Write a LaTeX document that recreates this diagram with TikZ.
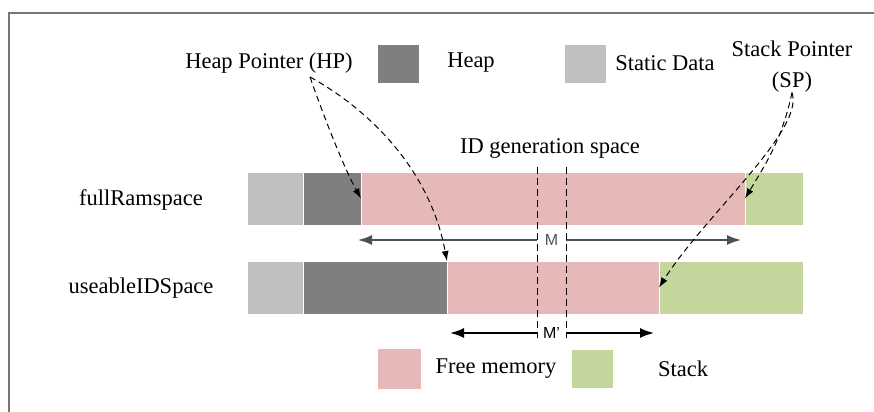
\documentclass[tikz,border=0pt]{standalone}
\usepackage{fontspec}
\setmainfont{Liberation Serif}
\newfontfamily\dimfont{Liberation Sans}
\usetikzlibrary{positioning, arrows.meta}
\definecolor{staticgray}{RGB}{191,191,191}
\definecolor{heapgray}{RGB}{127,127,127}
\definecolor{freepink}{RGB}{230,185,184}
\definecolor{stackgreen}{RGB}{195,214,155}
\definecolor{framegray}{RGB}{118,118,118}
\definecolor{dimgray}{RGB}{80,80,80}
\tikzset{
  seg/.style={
    rectangle,
    draw=white,
    line width=0.5pt,
    inner sep=0pt,
    outer sep=0pt,
    minimum height=26.5pt
  },
  swatch/.style={
    rectangle,
    inner sep=0pt,
    minimum width=20.5pt,
    minimum height=19pt
  },
  lbl/.style={
    inner sep=0pt,
    font=\fontsize{11.25}{13.5}\selectfont
  },
  pointer/.style={
    dash pattern=on 3pt off 2pt,
    line width=0.5pt,
    -{Latex[length=5pt,width=3.5pt]}
  },
  dimarrow/.style={
    line width=0.9pt,
    -{Latex[length=7pt,width=5pt]}
  },
  dimlabel/.style={
    inner sep=0pt,
    minimum width=14.5pt,
    font=\dimfont\fontsize{8}{9.5}\selectfont
  },
  idline/.style={
    dash pattern=on 3.5pt off 2pt,
    line width=0.5pt
  }
}
\begin{document}
\begin{tikzpicture}[x=0.5pt, y=-0.5pt]
    \useasboundingbox (0,0) rectangle (874,412);
    \draw[framegray, line width=1pt] (9,412) -- (9,13) -- (874,13);

    % full RAM bar
    \node[seg, fill=staticgray, minimum width=28pt, anchor=west] (ts) at (247,198.5) {};
    \node[seg, fill=heapgray, minimum width=29pt, right=0pt of ts] (th) {};
    \node[seg, fill=freepink, minimum width=192pt, right=0pt of th] (tf) {};
    \node[seg, fill=stackgreen, minimum width=29pt, right=0pt of tf] (tk) {};

    % usable ID bar
    \node[seg, fill=staticgray, minimum width=28pt, anchor=west] (bs) at (247,287.5) {};
    \node[seg, fill=heapgray, minimum width=72pt, right=0pt of bs] (bh) {};
    \node[seg, fill=freepink, minimum width=106pt, right=0pt of bh] (bf) {};
    \node[seg, fill=stackgreen, minimum width=72pt, right=0pt of bf] (bk) {};

    \node[lbl] (full) at (141,200) {fullRamspace};
    \node[lbl] (useable) at (141,288) {useableIDSpace};

    % legend
    \node[lbl] (hp) at (269,63) {Heap Pointer (HP)};
    \node[swatch, fill=heapgray] (keyheap) at (398.5,64) {};
    \node[lbl] (heaptxt) at (471,63) {Heap};
    \node[swatch, fill=staticgray] (keystatic) at (585,63.5) {};
    \node[lbl] (statictxt) at (665,63) {Static Data};
    \node[lbl, align=center, font=\fontsize{11.25}{15.5}\selectfont] (sp) at (792,66.5) {Stack Pointer\\(SP)};
    \node[swatch, fill=freepink, minimum width=21.5pt, minimum height=20pt] (keyfree) at (399.5,369) {};
    \node[lbl] (freetxt) at (496,369) {Free memory};
    \node[swatch, fill=stackgreen] (keystack) at (592.5,369) {};
    \node[lbl] (stacktxt) at (683,369) {Stack};

    % sizes
    \node[dimlabel, text=dimgray] (mlab) at (551.5,240) {M};
    \coordinate (mL) at (358,240);
    \coordinate (mR) at (741,240);
    \draw[dimarrow, dimgray] (mlab) -- (mL);
    \draw[dimarrow, dimgray] (mlab) -- (mR);
    \node[dimlabel] (mplab) at (551.5,333) {M’};
    \coordinate (mpL) at (450,333);
    \coordinate (mpR) at (654,333);
    \draw[dimarrow] (mplab) -- (mpL);
    \draw[dimarrow] (mplab) -- (mpR);

    % ID generation window
    \node[lbl] (idgen) at (550,148) {ID generation space};
    \coordinate (idLt) at (537,167);
    \coordinate (idLb) at (537,338);
    \coordinate (idRt) at (566,167);
    \coordinate (idRb) at (566,338);
    \draw[idline] (idLt) -- (idLb);
    \draw[idline] (idRt) -- (idRb);

    % pointers
    \coordinate (hpfoot) at (310,77);
    \draw[pointer] (hpfoot) .. controls (325,120) and (345,170) .. (tf.west);
    \draw[pointer] (hpfoot) .. controls (370,110) and (430,170) .. (bf.north west);
    \draw[pointer] (sp.south) .. controls (782,140) and (765,165) .. (tk.west);
    \draw[pointer] (sp.south) .. controls (805,130) and (705,215) .. (bk.west);
\end{tikzpicture}
\end{document}
